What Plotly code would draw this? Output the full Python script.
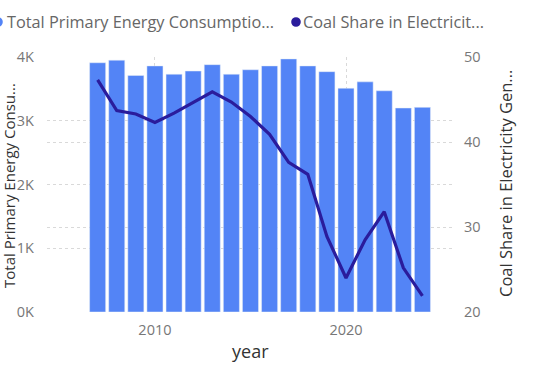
import plotly.graph_objects as go

years = list(range(2007, 2025))
energy = [3910, 3950, 3710, 3860, 3730, 3780, 3880, 3730, 3800, 3860,
          3970, 3860, 3770, 3510, 3610, 3470, 3200, 3210]
coal_share = [47.3, 43.7, 43.3, 42.3, 43.4, 44.7, 45.9, 44.7, 43.0, 40.9,
              37.6, 36.2, 28.9, 24.0, 28.5, 31.8, 25.2, 21.9]
name_energy = "Total Primary Energy Consumptio..."
name_coal = "Coal Share in Electricit..."
x_title = "year"
left_title = "Total Primary Energy Consu..."
right_title = "Coal Share in Electricity Gen..."
left_ticks = [0, 1000, 2000, 3000, 4000]
left_ticktext = ["0K", "1K", "2K", "3K", "4K"]
right_ticks = [20, 30, 40, 50]
x_ticks = [2010, 2020]

BAR = "#5384F6"
LINE = "#2A1C9C"
FONT = "Open Sans"

W, H = 541, 365
L, R, T, B = 47, 453, 57, 312
pw, ph = R - L, B - T

def px(x):
    return (x - L) / pw

def py(y):
    return (B - y) / ph

fig = go.Figure()
fig.add_trace(go.Bar(x=years, y=energy, marker_color=BAR, name=name_energy,
                     showlegend=False))
fig.add_trace(go.Scatter(x=years, y=coal_share, yaxis="y2", mode="lines",
                         line=dict(color=LINE, width=3.2), name=name_coal,
                         showlegend=False))

grid = dict(showgrid=True, gridcolor="#d9d9d9", griddash="dot", gridwidth=1)
tick_font = dict(size=14.5, color="#777777")

fig.update_layout(
    width=W, height=H,
    margin=dict(l=L, r=W - R, t=T, b=H - B, autoexpand=False),
    plot_bgcolor="white", paper_bgcolor="white",
    bargap=0.16,
    font=dict(family=FONT, color="#777777", size=12),
    xaxis=dict(range=[2004.35, 2025.6], tickvals=x_ticks, ticks="",
               showline=False, zeroline=False, ticklabelstandoff=7,
               tickfont=tick_font, automargin=False, **grid),
    yaxis=dict(range=[0, 4000], tickvals=left_ticks, ticktext=left_ticktext,
               ticks="", showline=False, zeroline=False, ticklabelstandoff=12,
               tickfont=tick_font, automargin=False, **grid),
    yaxis2=dict(range=[20, 50], tickvals=right_ticks, overlaying="y", side="right",
                ticks="", showline=False, zeroline=False, ticklabelstandoff=10,
                tickfont=tick_font, automargin=False, **grid),
)

annotations = [
    dict(text=x_title, x=px(250), y=py(351),
         font=dict(size=18, color="#333333")),
    dict(text=left_title, x=px(9), y=py(186), textangle=-90,
         font=dict(size=15, color="#333333")),
    dict(text=right_title, x=px(505), y=py(184), textangle=-90,
         font=dict(size=16.5, color="#333333")),
    dict(text=name_energy, x=px(5), y=py(22), xanchor="left",
         font=dict(size=16.3, color="#666666")),
    dict(text=name_coal, x=px(301), y=py(22), xanchor="left",
         font=dict(size=16.3, color="#666666")),
]
for a in annotations:
    a.update(xref="paper", yref="paper", showarrow=False,
             yanchor=a.get("yanchor", "middle"), xanchor=a.get("xanchor", "center"))
fig.update_layout(annotations=annotations)

r = 4.8
for cx, col in [(-2, BAR), (296, LINE)]:
    fig.add_shape(type="circle", xref="paper", yref="paper",
                  x0=px(cx - r), x1=px(cx + r), y0=py(22 + r), y1=py(22 - r),
                  fillcolor=col, line=dict(width=0))

fig.write_html("out.html")
